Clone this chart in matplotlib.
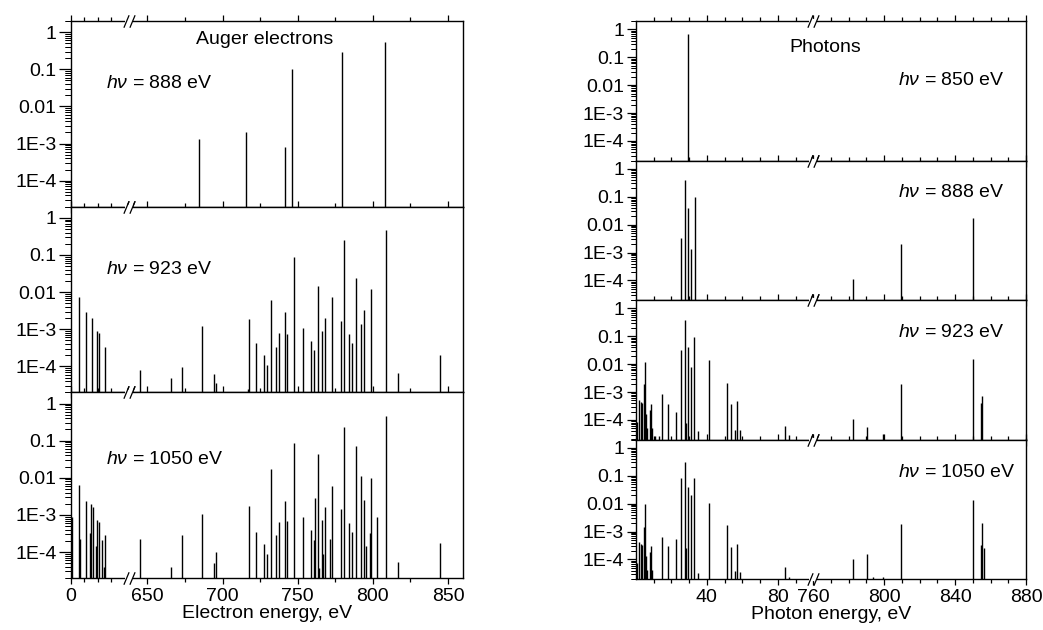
import numpy as np
import matplotlib
matplotlib.use("Agg")
import matplotlib.pyplot as plt
import matplotlib.transforms as mtransforms
from matplotlib.lines import Line2D
from matplotlib.markers import TICKLEFT
from matplotlib.ticker import FixedLocator, FixedFormatter, NullFormatter

plt.rcParams['font.family'] = ['Liberation Sans', 'DejaVu Sans']
plt.rcParams['mathtext.fontset'] = 'custom'
plt.rcParams['mathtext.rm'] = 'Liberation Sans'
plt.rcParams['mathtext.it'] = 'Liberation Sans:italic'

# ---- Auger electron spectra (energy eV, intensity) ----
auger_888_e = [684.5, 715.6, 741.6, 746.0, 779.6, 807.8]
auger_888_i = [1.3e-3, 2.1e-3, 8.3e-4, 0.105, 0.30, 0.56]

auger_923_e = [5.7, 11.3, 15.6, 19.6, 21.4, 25.7,
               644.9, 666.0, 673.1, 686.5, 694.5, 695.8, 716.9, 717.3, 722.3, 727.6,
               729.6, 732.5, 735.6, 737.6, 741.8, 743.1, 747.8, 753.6, 758.7, 760.7,
               763.6, 766.5, 768.3, 772.9, 778.9, 780.5, 784.3, 786.3, 789.1, 792.3,
               793.8, 798.5, 808.5, 816.9, 844.9]
auger_923_i = [7.4e-3, 2.9e-3, 2.0e-3, 8.9e-4, 7.8e-4, 3.4e-4,
               8.1e-5, 4.9e-5, 9.6e-5, 1.2e-3, 6.2e-5, 3.6e-5, 2.5e-5, 1.9e-3, 4.2e-4, 2.0e-4,
               1.1e-4, 6.1e-3, 3.4e-4, 7.8e-4, 2.9e-3, 7.4e-4, 0.089, 1.07e-3, 4.9e-4, 2.7e-4,
               0.015, 8.7e-4, 2.0e-3, 7.2e-3, 1.7e-3, 0.26, 7.6e-4, 4.2e-4, 0.024, 1.4e-3,
               3.2e-3, 0.012, 0.48, 6.5e-5, 2.0e-4]

auger_1050_e = [0.7, 5.8, 7.0, 11.3, 14.3, 15.3, 16.3, 18.9, 19.6, 21.4, 23.4, 24.6, 25.6,
                644.9, 666.0, 673.1, 686.5, 694.5, 695.8, 717.3, 722.3, 727.6, 729.6,
                732.5, 735.6, 737.6, 741.8, 743.1, 747.8, 753.6, 758.7, 760.7, 761.3,
                763.6, 764.5, 766.5, 767.1, 768.3, 771.6, 772.9, 778.9, 780.5, 784.3,
                786.3, 789.1, 792.3, 793.8, 795.4, 797.8, 798.5, 802.9, 808.5, 816.9, 844.9]
auger_1050_i = [9.0e-4, 6.2e-3, 2.3e-4, 2.4e-3, 3.3e-4, 2.0e-3, 1.6e-3, 1.5e-4, 7.1e-4, 6.5e-4,
                2.1e-4, 3.9e-5, 2.8e-4,
                2.3e-4, 4.0e-5, 2.8e-4, 1.07e-3, 5.0e-5, 1.0e-4, 1.7e-3, 3.5e-4, 1.6e-4, 8.7e-5,
                0.017, 2.8e-4, 6.3e-4, 2.4e-3, 6.7e-4, 0.084, 8.9e-4, 3.9e-4, 2.1e-4, 2.8e-3,
                0.044, 3.8e-5, 7.1e-4, 8.7e-5, 1.6e-3, 2.3e-4, 6.1e-3, 1.4e-3, 0.24, 6.2e-4,
                3.4e-4, 0.07, 0.011, 2.6e-3, 1.5e-4, 3.3e-4, 9.6e-3, 8.9e-4, 0.46, 5.3e-5, 1.7e-4]

# ---- Photon spectra (energy eV, intensity) ----
phot_850_e = [29.3]
phot_850_i = [0.66]

phot_888_e = [25.5, 27.8, 29.5, 31.0, 33.1, 782.3, 809.5, 850.1]
phot_888_i = [3.4e-3, 0.40, 0.039, 1.3e-3, 0.10, 1.15e-4, 2.1e-3, 0.017]

phot_923_e = [0.7, 1.6, 2.6, 3.5, 4.5, 4.9, 5.4, 6.0, 7.9, 8.3, 9.1, 10.6, 12.7, 14.6,
              18.2, 22.6, 25.5, 27.6, 28.3, 29.5, 31.2, 32.9, 35.0, 41.4, 51.3, 53.6,
              55.7, 57.2, 58.4, 83.8, 86.4,
              782.3, 790.3, 799.6, 809.5, 850.1, 854.6, 855.3]
phot_923_i = [8.7e-5, 5.3e-4, 4.6e-4, 4.2e-4, 1.9e-3, 0.012, 1.6e-4, 5.3e-5, 2.3e-4, 3.9e-4,
              5.0e-5, 2.6e-5, 2.6e-5, 8.5e-4, 3.9e-4, 1.9e-4, 0.032, 0.37, 7.7e-5, 0.040,
              8.1e-3, 0.093, 4.0e-5, 0.0137, 2.2e-3, 3.7e-4, 4.4e-5, 4.8e-4, 4.5e-5, 6.0e-5, 2.9e-5,
              1.1e-4, 5.7e-5, 3.1e-5, 1.9e-3, 0.016, 4.2e-4, 7.3e-4]

phot_1050_e = [0.7, 1.6, 2.6, 3.5, 4.5, 4.9, 5.4, 6.0, 7.9, 8.3, 9.1, 14.6, 18.2, 22.6,
               25.5, 27.6, 28.3, 29.5, 31.2, 32.9, 35.0, 41.4, 51.3, 53.6, 55.7, 57.2, 58.4,
               83.8, 86.4,
               782.3, 790.3, 793.7, 799.6, 809.5, 850.1, 854.6, 855.3, 856.2]
phot_1050_i = [7.2e-5, 4.3e-4, 3.7e-4, 3.4e-4, 1.5e-3, 0.010, 1.3e-4, 4.2e-5, 1.9e-4, 3.0e-4,
               4.2e-5, 6.6e-4, 3.1e-4, 5.6e-4, 0.082, 0.32, 2.6e-4, 0.039, 0.021, 0.082, 3.2e-5,
               0.011, 1.7e-3, 2.8e-4, 3.8e-5, 3.7e-4, 3.7e-5, 5.2e-5, 2.3e-5,
               1.0e-4, 1.6e-4, 2.4e-5, 2.4e-5, 1.8e-3, 0.014, 3.2e-4, 2.0e-3, 2.6e-4]

ytick_vals = [1e-4, 1e-3, 1e-2, 1e-1, 1]
ytick_text = ['1E-4', '1E-3', '0.01', '0.1', '1']
YLIM = (2e-5, 2.0)
ytick_minor = [m * 10.0 ** d for d in range(-5, 1) for m in range(2, 10)
               if YLIM[0] <= m * 10.0 ** d <= YLIM[1]]
FS = 14

# broken x scales
KL = 0.8833
LB1, LB2 = 44.0, 638.0


def fwd_left(x):
    x = np.asarray(x, dtype=float)
    return np.where(x <= LB1, x * KL, np.where(x >= LB2, LB1 * KL + x - LB2, LB1 * KL))


def inv_left(y):
    y = np.asarray(y, dtype=float)
    return np.where(y <= LB1 * KL, y / KL, y - LB1 * KL + LB2)


RB1, RB2 = 100.0, 760.0


def fwd_right(x):
    x = np.asarray(x, dtype=float)
    return np.where(x <= RB1, x, np.where(x >= RB2, RB1 + x - RB2, RB1))


def inv_right(y):
    y = np.asarray(y, dtype=float)
    return np.where(y <= RB1, y, y + RB2 - RB1)


fig = plt.figure(figsize=(10.43, 6.30), dpi=100)


def draw_break(ax, xb):
    # "//" marks on top and bottom spine
    base = ax.get_xaxis_transform()
    for yb in (0, 1):
        gap = Line2D([xb], [yb], marker='_', ms=6, mew=3, color='white',
                     transform=base, clip_on=False, zorder=5)
        ax.add_artist(gap)
        for dx in (-2.2, 2.2):
            tr = base + mtransforms.ScaledTranslation(dx / 72, 0, fig.dpi_scale_trans)
            sl = Line2D([xb], [yb], marker=[(-1, -2.4), (1, 2.4)], ms=9, mew=0.9,
                        color='black', transform=tr, clip_on=False, zorder=6)
            ax.add_artist(sl)


def style_axis(ax, scale_fns, xlim, xmaj, xmin, xlabels, bottom, ylen):
    ax.set_xscale('function', functions=scale_fns)
    ax.set_yscale('log')
    ax.set_xlim(*xlim)
    ax.set_ylim(*YLIM)
    ax.xaxis.set_major_locator(FixedLocator(xmaj))
    ax.xaxis.set_minor_locator(FixedLocator(xmin))
    ax.yaxis.set_major_locator(FixedLocator(ytick_vals))
    ax.yaxis.set_major_formatter(FixedFormatter(ytick_text))
    ax.yaxis.set_minor_locator(FixedLocator(ytick_minor))
    ax.yaxis.set_minor_formatter(NullFormatter())
    if bottom:
        ax.xaxis.set_major_formatter(FixedFormatter(xlabels))
    else:
        ax.xaxis.set_major_formatter(NullFormatter())
    ax.xaxis.set_minor_formatter(NullFormatter())
    ax.tick_params(axis='x', which='major', direction='out', length=4.5, width=0.9,
                   labelsize=FS, pad=3, top=True)
    ax.tick_params(axis='x', which='minor', direction='out', length=3, width=0.9, top=True)
    ax.tick_params(axis='y', which='major', direction='out', length=ylen, width=0.9,
                   labelsize=FS, pad=2)
    ax.tick_params(axis='y', which='minor', direction='out', length=ylen * 0.5, width=0.7)
    # log minor ticks on the left spine, drawn explicitly as tick markers
    mt = Line2D(np.zeros(len(ytick_minor)), ytick_minor, linestyle='none',
                marker=TICKLEFT, ms=ylen * 0.5, mew=0.7, color='black',
                transform=ax.get_yaxis_transform(), clip_on=False)
    ax.add_artist(mt)
    for s in ax.spines.values():
        s.set_linewidth(1.0)


# left column
L_X0, L_W = 71 / 1043, 392 / 1043
L_BOT, L_TOP = 1 - 578 / 630, 1 - 21 / 630
lh = (L_TOP - L_BOT) / 3
left_data = [(auger_888_e, auger_888_i, '888'),
             (auger_923_e, auger_923_i, '923'),
             (auger_1050_e, auger_1050_i, '1050')]
left_text_y = [0.665, 0.66, 0.64]
left_xmaj = [0, 650, 700, 750, 800, 850]
left_xmin = [10, 20, 30, 675, 725, 775, 825]
left_xlab = ['0', '650', '700', '750', '800', '850']

for k, (e, inten, hv) in enumerate(left_data):
    ax = fig.add_axes([L_X0, L_TOP - (k + 1) * lh, L_W, lh])
    style_axis(ax, (fwd_left, inv_left), (0, 860), left_xmaj, left_xmin, left_xlab,
               k == 2, 8.5)
    ax.vlines(e, 1e-6, inten, color='black', lw=1.0)
    ax.text(0.09, left_text_y[k], r'$h\nu$ = ' + hv + ' eV', transform=ax.transAxes,
            fontsize=FS, va='center', ha='left')
    if k == 0:
        ax.text(0.32, 0.90, 'Auger electrons', transform=ax.transAxes,
                fontsize=FS, va='center', ha='left')
    if k == 2:
        ax.set_xlabel('Electron energy, eV', fontsize=FS, labelpad=0)
    draw_break(ax, LB1)

# right column
R_X0, R_W = 636 / 1043, 390 / 1043
R_BOT, R_TOP = 1 - 579 / 630, 1 - 21 / 630
rh = (R_TOP - R_BOT) / 4
right_data = [(phot_850_e, phot_850_i, '850'),
              (phot_888_e, phot_888_i, '888'),
              (phot_923_e, phot_923_i, '923'),
              (phot_1050_e, phot_1050_i, '1050')]
right_text_y = [0.57, 0.77, 0.77, 0.76]
right_xmaj = [40, 80, 760, 800, 840, 880]
right_xmin = [10, 20, 30, 50, 60, 70, 90, 770, 780, 790, 810, 820, 830, 850, 860, 870]
right_xlab = ['40', '80', '760', '800', '840', '880']

for k, (e, inten, hv) in enumerate(right_data):
    ax = fig.add_axes([R_X0, R_TOP - (k + 1) * rh, R_W, rh])
    style_axis(ax, (fwd_right, inv_right), (0, 880), right_xmaj, right_xmin, right_xlab,
               k == 3, 6.5)
    ax.vlines(e, 1e-6, inten, color='black', lw=1.0)
    ax.text(0.672, right_text_y[k], r'$h\nu$ = ' + hv + ' eV', transform=ax.transAxes,
            fontsize=FS, va='center', ha='left')
    if k == 0:
        ax.text(0.485, 0.81, 'Photons', transform=ax.transAxes,
                fontsize=FS, va='center', ha='center')
    if k == 3:
        ax.set_xlabel('Photon energy, eV', fontsize=FS, labelpad=0)
    draw_break(ax, RB1)

fig.savefig('out.png', dpi=100)
